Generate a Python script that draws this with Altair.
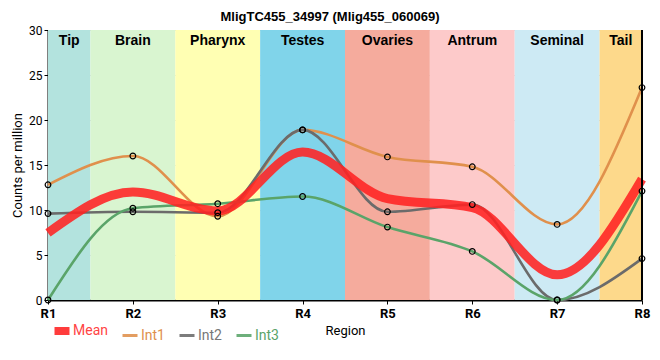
import altair as alt
import pandas as pd

regions = ["R1", "R2", "R3", "R4", "R5", "R6", "R7", "R8"]
int1 = [12.8, 16.0, 9.3, 18.9, 15.9, 14.8, 8.4, 23.6]
int2 = [9.6, 9.8, 9.7, 18.9, 9.8, 10.6, 0.0, 4.6]
int3 = [0.0, 10.2, 10.7, 11.5, 8.1, 5.4, 0.0, 12.1]
mean = [round((a + b + c) / 3, 3) for a, b, c in zip(int1, int2, int3)]

band_names = ["Tip", "Brain", "Pharynx", "Testes", "Ovaries", "Antrum", "Seminal", "Tail"]
band_start = [1, 1.5, 2.5, 3.5, 4.5, 5.5, 6.5, 7.5]
band_end = [1.5, 2.5, 3.5, 4.5, 5.5, 6.5, 7.5, 8]
band_colors = ["#b3e3de", "#d9f5d0", "#ffffb3", "#80d4ea", "#f5ab9d", "#fdcaca", "#cdeaf4", "#fdd98b"]

series = ["Mean", "Int1", "Int2", "Int3"]
series_colors = ["#ff2222", "#e0904c", "#6b6b6b", "#5aa469"]

rows = []
for name, vals in zip(series, [mean, int1, int2, int3]):
    for i, v in enumerate(vals):
        rows.append({"series": name, "x": i + 1, "value": v})
df = pd.DataFrame(rows)
bands = pd.DataFrame({"name": band_names, "x0": band_start, "x1": band_end,
                      "mid": [(a + b) / 2 for a, b in zip(band_start, band_end)],
                      "col": band_colors})

xscale = alt.Scale(domain=[1, 8], nice=False, zero=False)
yscale = alt.Scale(domain=[0, 30], nice=False)
cscale = alt.Scale(domain=series, range=series_colors)

label_color_expr = ("datum.label == 'Mean' ? '#ff4444' : datum.label == 'Int1' ? '#e0904c' : "
                    "datum.label == 'Int2' ? '#777777' : '#5aa469'")

xaxis = alt.Axis(values=list(range(1, 9)), labelExpr="'R' + datum.value", title="Region",
                 labelFontWeight="bold", labelFontSize=13, labelColor="black", labelFlush=False,
                 domainColor="black", domainWidth=2, tickColor="black", tickSize=4,
                 gridColor="#cccccc", titleFontWeight="normal", titleFontSize=13,
                 labelFont="Roboto", titleFont="Roboto", titleColor="black", labelPadding=3, titlePadding=4)
yaxis = alt.Axis(values=[0, 5, 10, 15, 20, 25, 30], title="Counts per million",
                 labelFontSize=12, labelColor="black", domainColor="black", domainWidth=2,
                 tickColor="black", tickSize=4, gridColor="#cccccc", titleFontWeight="normal",
                 titleFontSize=13, labelFont="Roboto", titleFont="Roboto", titleColor="black",
                 labelFlush=False)

band_rect = alt.Chart(bands).mark_rect().encode(
    x=alt.X("x0:Q", scale=xscale, axis=xaxis),
    x2="x1:Q",
    y=alt.datum(0, scale=yscale, axis=yaxis),
    y2=alt.datum(30),
    fill=alt.Fill("col:N", scale=None),
)

band_text = alt.Chart(bands).mark_text(fontWeight="bold", fontSize=14, font="Liberation Sans",
                                       baseline="middle", color="black").encode(
    x=alt.X("mid:Q", scale=xscale),
    y=alt.datum(28.8),
    text="name:N",
)

legend = alt.Legend(title=None, orient="none", legendX=7, legendY=294, direction="horizontal",
                    symbolType="stroke", symbolSize=225,
                    symbolStrokeWidth={"expr": "datum.label == 'Mean' ? 8 : 3"},
                    labelFontSize=14, labelFont="Roboto",
                    labelColor={"expr": label_color_expr}, columnPadding=8, labelOffset=4)

int_df = df[df.series != "Mean"]
mean_df = df[df.series == "Mean"]

lines_int = alt.Chart(int_df).mark_line(interpolate="monotone", strokeWidth=2.6).encode(
    x=alt.X("x:Q", scale=xscale),
    y=alt.Y("value:Q", scale=yscale),
    color=alt.Color("series:N", scale=cscale, legend=legend, sort=series),
)

line_mean = alt.Chart(mean_df).mark_line(interpolate="monotone", opacity=0.88, strokeWidth=9).encode(
    x=alt.X("x:Q", scale=xscale),
    y=alt.Y("value:Q", scale=yscale),
    color=alt.Color("series:N", scale=cscale, legend=legend, sort=series),
)

points = alt.Chart(int_df).mark_point(shape="circle", filled=False, stroke="black",
                                      strokeWidth=1.2, size=32, opacity=1).encode(
    x=alt.X("x:Q", scale=xscale),
    y=alt.Y("value:Q", scale=yscale),
)

right_edge = alt.Chart(bands.head(1)).mark_rule(color="black", strokeWidth=2).encode(
    x=alt.datum(8, scale=xscale),
    y=alt.datum(0),
    y2=alt.datum(30),
)

chart = alt.layer(band_rect, band_text, lines_int, line_mean, points, right_edge).properties(
    width=594, height=270,
    autosize=alt.AutoSizeParams(type="none"),
    padding={"left": 40, "top": 22, "right": 10, "bottom": 50},
    title=alt.TitleParams("MligTC455_34997 (Mlig455_060069)", fontSize=13, fontWeight="bold",
                          font="Liberation Sans", color="black", offset=0, dx=-15),
).configure_view(stroke=None).configure_axis(grid=True)

chart.save("out.html", embed_options={"renderer": "svg", "actions": False})
